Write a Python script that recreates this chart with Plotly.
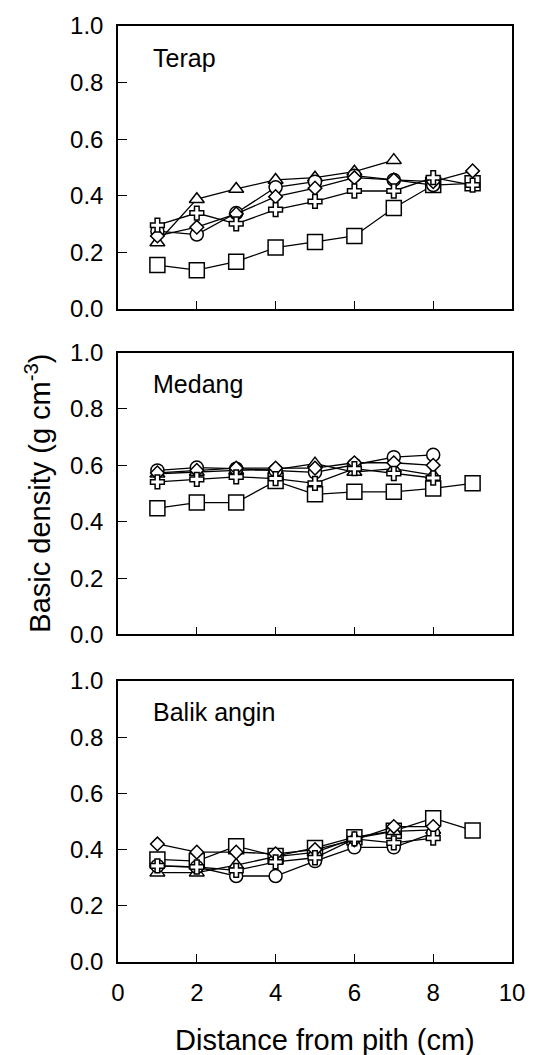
import plotly.graph_objects as go

# ---------------- data ----------------
panel_names = ["Terap", "Medang", "Balik angin"]
x_ticks = [0, 2, 4, 6, 8, 10]
y_ticks = [0.0, 0.2, 0.4, 0.6, 0.8, 1.0]

x9 = [1, 2, 3, 4, 5, 6, 7, 8, 9]
x8 = [1, 2, 3, 4, 5, 6, 7, 8]
x7 = [1, 2, 3, 4, 5, 6, 7]

terap_square = [0.155, 0.137, 0.167, 0.217, 0.237, 0.258, 0.357, 0.438, 0.444]
terap_triangle = [0.235, 0.388, 0.424, 0.456, 0.464, 0.485, 0.526]
terap_circle = [0.275, 0.263, 0.339, 0.43, 0.45, 0.471, 0.456, 0.438]
terap_diamond = [0.258, 0.289, 0.336, 0.397, 0.427, 0.464, 0.456, 0.45, 0.488]
terap_plus = [0.296, 0.339, 0.301, 0.351, 0.38, 0.417, 0.417, 0.464, 0.438]

medang_square = [0.448, 0.468, 0.468, 0.544, 0.497, 0.506, 0.506, 0.518, 0.536]
medang_triangle = [0.57, 0.576, 0.582, 0.585, 0.606, 0.576, 0.588, 0.565]
medang_circle = [0.582, 0.592, 0.588, 0.582, 0.575, 0.602, 0.629, 0.637]
medang_diamond = [0.573, 0.582, 0.59, 0.59, 0.59, 0.609, 0.609, 0.6]
medang_plus = [0.541, 0.55, 0.559, 0.553, 0.536, 0.588, 0.571, 0.555]

balik_square = [0.365, 0.359, 0.412, 0.377, 0.406, 0.444, 0.467, 0.512, 0.468]
balik_triangle = [0.318, 0.318, 0.345, 0.375, 0.39, 0.44, 0.465, 0.47]
balik_circle = [0.342, 0.338, 0.306, 0.306, 0.359, 0.408, 0.408, 0.459]
balik_diamond = [0.42, 0.391, 0.391, 0.385, 0.40, 0.435, 0.482, 0.482]
balik_plus = [0.342, 0.338, 0.326, 0.356, 0.371, 0.438, 0.424, 0.441]

panels = [
    [(x9, terap_square, "square"), (x7, terap_triangle, "triangle-up"),
     (x8, terap_circle, "circle"), (x9, terap_diamond, "diamond"),
     (x9, terap_plus, "cross")],
    [(x9, medang_square, "square"), (x8, medang_triangle, "triangle-up"),
     (x8, medang_circle, "circle"), (x8, medang_diamond, "diamond"),
     (x8, medang_plus, "cross")],
    [(x9, balik_square, "square"), (x8, balik_triangle, "triangle-up"),
     (x8, balik_circle, "circle"), (x8, balik_diamond, "diamond"),
     (x8, balik_plus, "cross")],
]

# ---------------- styling ----------------
FONT = "Liberation Sans, Arial, sans-serif"
sizes = {"square": 15, "triangle-up": 13, "circle": 13, "diamond": 10.5, "cross": 11.5}

W, H = 537, 1055
ML, MR, MT, MB = 118, 17, 16, 93
plot_h = H - MT - MB
panel_px = [(16, 302), (346, 631), (678, 962)]
domains = [[1 - (b - MT) / plot_h, 1 - (t - MT) / plot_h] for t, b in panel_px]
domains[0][1] = 1.0
domains[2][0] = 0.0

fig = go.Figure()
for i, series in enumerate(panels):
    xa = "x" if i == 0 else f"x{i+1}"
    ya = "y" if i == 0 else f"y{i+1}"
    for xs, ys, sym in series:
        fig.add_trace(go.Scatter(
            x=xs, y=ys, mode="lines+markers", xaxis=xa, yaxis=ya,
            line=dict(color="black", width=1.3),
            marker=dict(symbol=sym, size=sizes[sym], color="white",
                        line=dict(color="black", width=1.5)),
            showlegend=False, cliponaxis=False,
        ))

layout = dict(
    width=W, height=H,
    margin=dict(l=ML, r=MR, t=MT, b=MB),
    paper_bgcolor="white", plot_bgcolor="white",
    font=dict(family=FONT, color="black", size=24),
    showlegend=False,
)
for i in range(3):
    xk = "xaxis" if i == 0 else f"xaxis{i+1}"
    yk = "yaxis" if i == 0 else f"yaxis{i+1}"
    ya = "y" if i == 0 else f"y{i+1}"
    xa = "x" if i == 0 else f"x{i+1}"
    layout[xk] = dict(
        range=[0, 10], domain=[0, 1], anchor=ya,
        tickvals=x_ticks, ticktext=[str(v) for v in x_ticks],
        showticklabels=(i == 2), ticks="inside", ticklen=8, tickwidth=1.3,
        tickcolor="black", showline=True, linecolor="black", linewidth=1.5,
        mirror=True, showgrid=False, zeroline=False,
        tickfont=dict(size=24), ticklabelstandoff=8,
    )
    layout[yk] = dict(
        range=[0, 1], domain=domains[i], anchor=xa,
        tickvals=y_ticks, ticktext=[f"{v:.1f}" for v in y_ticks],
        ticks="inside", ticklen=9, tickwidth=1.3, tickcolor="black",
        showline=True, linecolor="black", linewidth=1.5, mirror=True,
        showgrid=False, zeroline=False, tickfont=dict(size=24),
        ticklabelstandoff=8,
    )
fig.update_layout(**layout)

annotations = []
for i, name in enumerate(panel_names):
    ya = "y domain" if i == 0 else f"y{i+1} domain"
    xa = "x domain" if i == 0 else f"x{i+1} domain"
    annotations.append(dict(
        text=name, xref=xa, yref=ya, x=34 / 402, y=1 - 32 / 286,
        xanchor="left", yanchor="middle", showarrow=False,
        font=dict(size=25, family=FONT, color="black"),
    ))
annotations.append(dict(
    text="Basic density (g cm<sup>-3</sup>)", xref="paper", yref="paper",
    x=(36 - ML) / (W - ML - MR), y=1 - (488 - MT) / plot_h,
    xanchor="center", yanchor="middle", textangle=-90, showarrow=False,
    font=dict(size=29, family=FONT, color="black"),
))
annotations.append(dict(
    text="Distance from pith (cm)", xref="paper", yref="paper",
    x=(329 - ML) / (W - ML - MR), y=-(1041 - (H - MB)) / plot_h,
    xanchor="center", yanchor="middle", showarrow=False,
    font=dict(size=29, family=FONT, color="black"),
))
fig.update_layout(annotations=annotations)

fig.write_html("out.html")
